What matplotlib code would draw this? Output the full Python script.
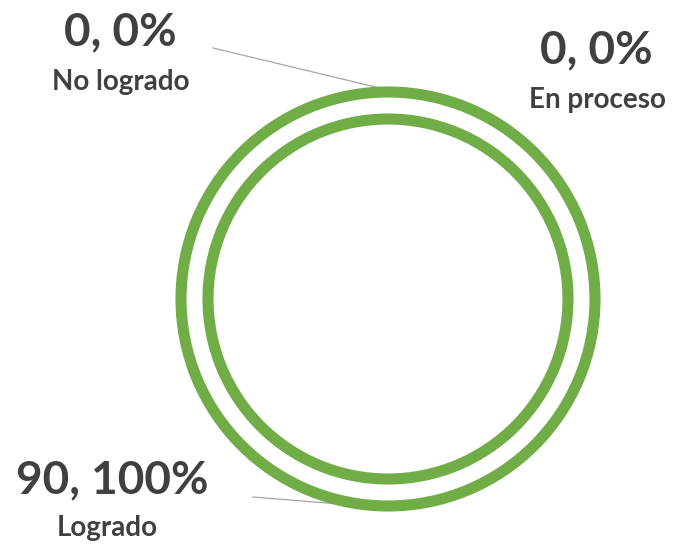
import matplotlib.pyplot as plt
import numpy as np

categorias = ['Logrado', 'En proceso', 'No logrado']
valores = [90, 0, 0]
porcentajes = ['100%', '0%', '0%']

verde = '#70AD47'
gris_texto = '#404040'

W, H = 673, 548
fig = plt.figure(figsize=(W / 100, H / 100), dpi=100)
ax = fig.add_axes([0, 0, 1, 1])

cx, cy = 388, H - 299
r_ext = 207
ancho = 27

wedges, _ = ax.pie(valores, startangle=90, counterclock=False, center=(cx, cy),
                   radius=r_ext, frame=True,
                   wedgeprops=dict(width=ancho, facecolor='white', edgecolor=verde,
                                   linewidth=8))
# las porciones en cero no se dibujan
for w, v in zip(wedges, valores):
    if v == 0:
        w.set_visible(False)

ax.set_xlim(0, W)
ax.set_ylim(0, H)
ax.set_aspect('equal')
ax.axis('off')

# posiciones de las etiquetas (pixeles desde arriba)
pos_valor = {'Logrado': (112, 480), 'En proceso': (596, 50), 'No logrado': (120, 32)}
pos_nombre = {'Logrado': (107, 528), 'En proceso': (597, 100), 'No logrado': (121, 82)}
inicio_linea = {'Logrado': (253, 497), 'No logrado': (213, 48)}

for w, cat, val, pct in zip(wedges, categorias, valores, porcentajes):
    vx, vy = pos_valor[cat]
    nx, ny = pos_nombre[cat]
    ax.text(vx, H - vy, f'{val}, {pct}', ha='center', va='center', fontsize=33,
            fontweight='bold', color=gris_texto, family='Lato')
    ax.text(nx, H - ny, cat, ha='center', va='center', fontsize=20,
            fontweight='bold', color=gris_texto, family='Lato')
    if cat in inicio_linea:
        ang = np.deg2rad((w.theta1 + w.theta2) / 2)
        ex = cx + (r_ext + 2) * np.cos(ang)
        ey = cy + (r_ext + 2) * np.sin(ang)
        sx, sy = inicio_linea[cat]
        ax.plot([sx, ex], [H - sy, ey], color='#A6A6A6', lw=0.9, zorder=0)

fig.savefig('out.png', dpi=100)
